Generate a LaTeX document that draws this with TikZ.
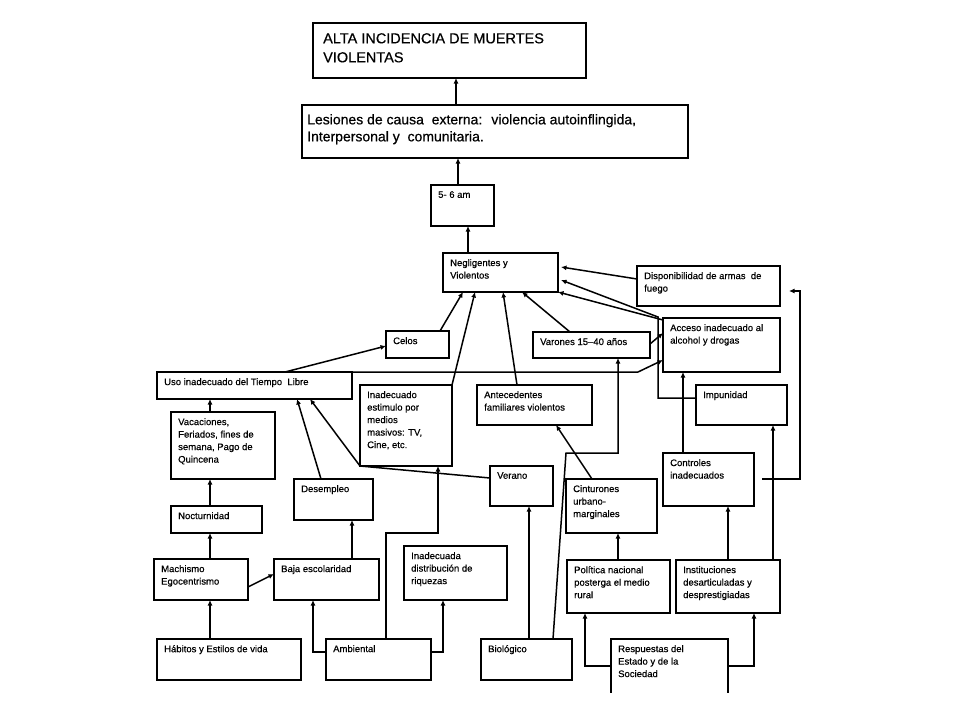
\documentclass[tikz,border=0pt]{standalone}
\usepackage{fontspec}
\setmainfont{Liberation Sans}[FakeBold=0.5]
\usetikzlibrary{arrows.meta}
\tikzset{
 box/.style={draw, line width=1.9pt, rectangle, inner sep=0pt, outer sep=0pt, anchor=north west},
 txt/.style={anchor=north west, inner sep=0pt, align=left, font=\fontsize{9.5}{12.5}\selectfont},
 arr/.style={line width=1.5pt, -{Latex[length=5.5pt,width=5pt]}},
 ln/.style={line width=1.5pt},
}
% \bx[text options]{name}{x1}{y1}{x2}{y2}{text}
\newcommand{\bx}[7][]{%
 \node[box, minimum width={#5pt-#3pt}, minimum height={#6pt-#4pt}] (#2) at (#3,#4) {};
 \node[txt, #1] (#2-t) at ([xshift=7pt,yshift=-6pt]#2.north west) {#7};}
\begin{document}
\begin{tikzpicture}[x=1pt,y=-1pt]
\fill[white] (0,0) rectangle (960,720);
\useasboundingbox (0,0) rectangle (960,720);
\begin{scope}
\clip (0,0) rectangle (960,692);
% boxes
\bx[font=\fontsize{14.5}{19}\selectfont, xshift=3pt, yshift=-4pt]{alta}{313}{23}{586}{78}{ALTA INCIDENCIA DE MUERTES\\VIOLENTAS}
\bx[font=\fontsize{14}{17}\selectfont, xshift=-2pt, yshift=-3pt]{les}{302}{105}{688}{158}{Lesiones de causa \ externa: \ violencia autoinflingida,\\Interpersonal y \ comunitaria.}
\bx{am}{431}{185}{494}{226}{5- 6 am}
\bx{neg}{443}{253}{558}{292}{Negligentes y\\Violentos}
\bx{disp}{637}{266}{780}{306}{Disponibilidad de armas \ de\\fuego}
\bx{acc}{663}{318}{780}{372}{Acceso inadecuado al\\alcohol y drogas}
\bx{var}{533}{332}{650}{358}{Varones 15–40 años}
\bx{celos}{386}{331}{449}{358}{Celos}
\bx{uso}{157}{372}{352}{399}{Uso inadecuado del Tiempo \ Libre}
\bx{est}{360}{385}{452}{466}{Inadecuado\\estimulo por\\medios\\masivos: TV,\\Cine, etc.}
\bx{ant}{477}{385}{592}{425}{Antecedentes\\familiares violentos}
\bx{imp}{696}{385}{787}{425}{Impunidad}
\bx{vac}{171}{412}{275}{479}{Vacaciones,\\Feriados, fines de\\semana, Pago de\\Quincena}
\bx{des}{294}{479}{373}{520}{Desempleo}
\bx{ver}{490}{466}{553}{506}{Verano}
\bx{cin}{566}{479}{657}{533}{Cinturones\\urbano-\\marginales}
\bx{con}{663}{453}{754}{506}{Controles\\inadecuados}
\bx{noc}{171}{506}{262}{533}{Nocturnidad}
\bx{mach}{154}{559}{248}{600}{Machismo\\Egocentrismo}
\bx{baja}{274}{559}{379}{600}{Baja escolaridad}
\bx{dist}{404}{546}{507}{600}{Inadecuada\\distribución de\\riquezas}
\bx{pol}{567}{560}{670}{613}{Política nacional\\posterga el medio\\rural}
\bx{inst}{676}{560}{780}{613}{Instituciones\\desarticuladas y\\desprestigiadas}
\bx{hab}{157}{639}{301}{680}{Hábitos y Estilos de vida}
\bx{amb}{326}{639}{431}{680}{Ambiental}
\bx{bio}{481}{639}{572}{680}{Biológico}
\bx{resp}{611}{639}{728}{705}{Respuestas del\\Estado y de la\\Sociedad}
% bend points
\coordinate (b1) at (658,317);
\coordinate (b2) at (638,372);
\coordinate (b3) at (438,533);
\coordinate (b4) at (566,453);
\coordinate (b5) at (800,291);
\coordinate (b6) at (789,291);
% connectors
\draw[arr] ([xshift=154pt]les.north west) -- ([xshift=143pt]alta.south west);
\draw[arr] ([xshift=27pt]am.north west) -- ([xshift=156pt]les.south west);
\draw[arr] ([xshift=25pt]neg.north west) -- ([xshift=37pt]am.south west);
\draw[arr] ([yshift=-13pt]disp.north west) -- ([xshift=3pt,yshift=-14pt]neg.north east);
\draw[arr] ([yshift=-2pt]acc.north west) -- (neg.south east);
\draw[arr] ([yshift=-13pt]imp.north west) -| (b1) -- ([xshift=3pt,yshift=-27pt]neg.north east);
\draw[arr] ([yshift=-12pt]var.north east) -- ([yshift=-15pt]acc.north west);
\draw[arr] (uso.north east) -- (b2) -- ([yshift=-42pt]acc.north west);
\draw[arr] ([xshift=37pt]var.north west) -- ([xshift=79pt]neg.south west);
\draw[arr] ([xshift=40pt]ant.north west) -- ([xshift=60pt]neg.south west);
\draw[arr] (est.north east) -- ([xshift=32pt]neg.south west);
\draw[arr] ([xshift=54pt]celos.north west) -- ([xshift=20pt]neg.south west);
\draw[arr] ([xshift=128pt]uso.north west) -- ([yshift=-15pt]celos.north west);
\draw[arr] ([xshift=39pt]vac.north west) -- ([xshift=53pt]uso.south west);
\draw[arr] ([xshift=27pt]des.north west) -- ([xshift=140pt]uso.south west);
\draw[arr] ([yshift=-12pt]ver.north west) -- (est.south west) -- ([xshift=153pt]uso.south west);
\draw[arr] ([xshift=60pt]amb.north west) |- (b3) -- ([xshift=78pt]est.south west);
\draw[arr] ([yshift=-13pt]amb.north west) -| ([xshift=39pt]baja.south west);
\draw[arr] ([yshift=-13pt]amb.north east) -| ([xshift=39pt]dist.south west);
\draw[arr] ([xshift=53pt]hab.north west) -- ([xshift=56pt]mach.south west);
\draw[arr] ([xshift=56pt]mach.north west) -- ([xshift=39pt]noc.south west);
\draw[arr] ([xshift=39pt]noc.north west) -- ([xshift=39pt]vac.south west);
\draw[arr] ([yshift=13pt]mach.south east) -- ([yshift=-15pt]baja.north west);
\draw[arr] ([xshift=78pt]baja.north west) -- ([xshift=58pt]des.south west);
\draw[arr] ([xshift=48pt]bio.north west) -- ([xshift=39pt]ver.south west);
\draw[arr] ([xshift=72pt]bio.north west) -- (b4) -| ([xshift=85pt]var.south west);
\draw[arr] ([xshift=26pt]cin.north west) -- ([xshift=79pt]ant.south west);
\draw[arr] ([xshift=51pt]pol.north west) -- ([xshift=52pt]cin.south west);
\draw[arr] ([xshift=52pt]inst.north west) -- ([xshift=65pt]con.south west);
\draw[arr] ([xshift=97pt]inst.north west) -- ([xshift=77pt]imp.south west);
\draw[arr] ([xshift=20pt]con.north west) -- ([xshift=20pt]acc.south west);
\draw[arr] ([xshift=8pt,yshift=-26pt]con.north east) -| (b5) -- (b6);
\draw[arr] ([yshift=-27pt]resp.north west) -| ([xshift=18pt]pol.south west);
\draw[arr] ([yshift=-27pt]resp.north east) -| ([xshift=78pt]inst.south west);
\end{scope}
\end{tikzpicture}
\end{document}
